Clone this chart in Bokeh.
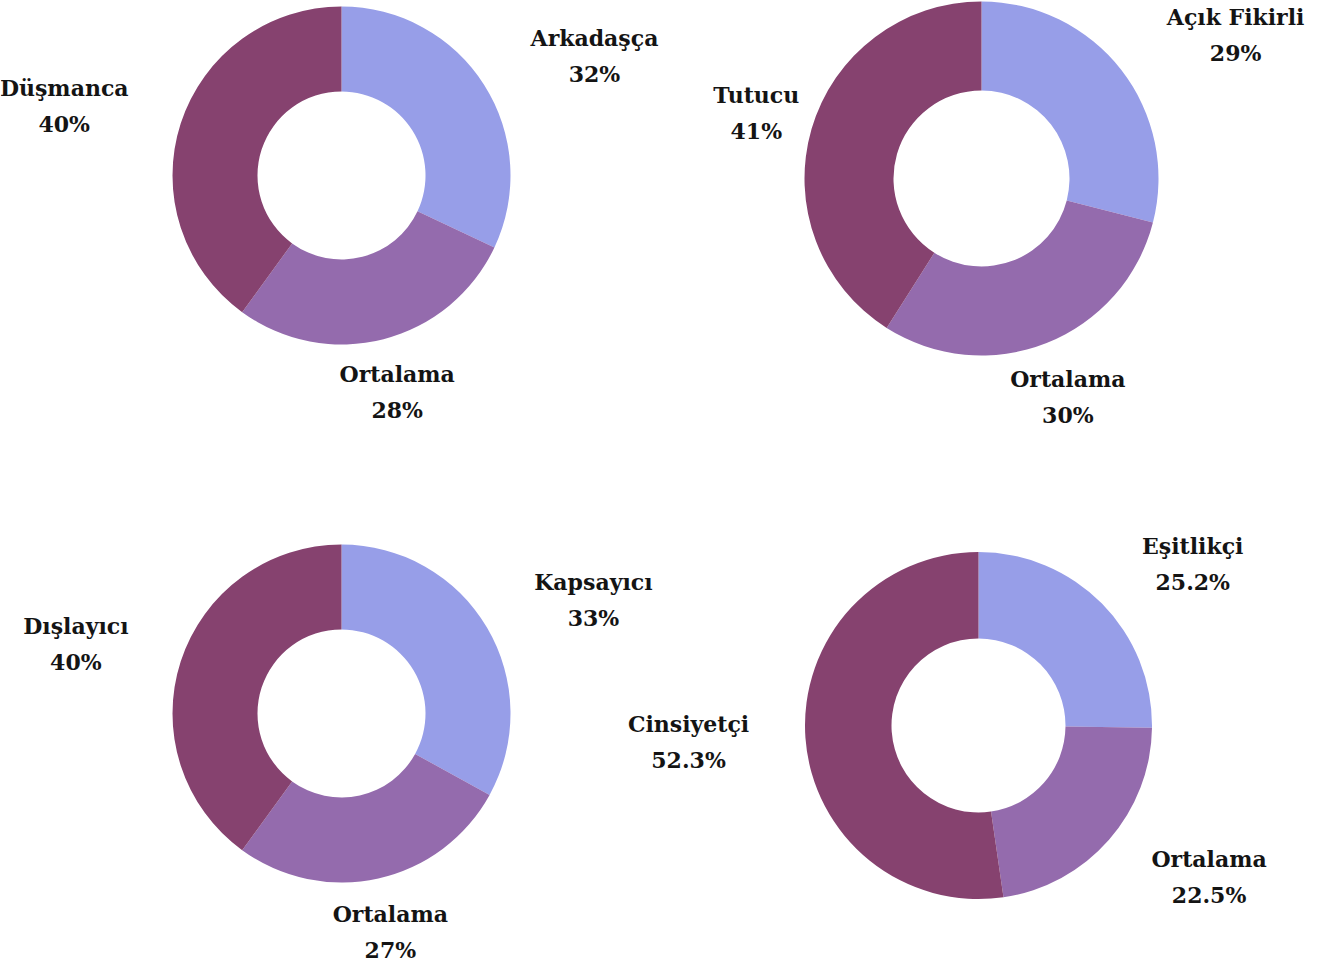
import math
import glob
from bokeh.plotting import figure
from bokeh.models import Range1d, ColumnDataSource
from bokeh.core.properties import value
from bokeh.embed import file_html
from bokeh.resources import INLINE

# ---- data ----
labels1 = ["Arkadaşça", "Ortalama", "Düşmanca"]
values1 = [32, 28, 40]
labels2 = ["Açık Fikirli", "Ortalama", "Tutucu"]
values2 = [29, 30, 41]
labels3 = ["Kapsayıcı", "Ortalama", "Dışlayıcı"]
values3 = [33, 27, 40]
labels4 = ["Eşitlikçi", "Ortalama", "Cinsiyetçi"]
values4 = [25.2, 22.5, 52.3]

# ---- style / layout ----
colors = ["#979EE8", "#946BAD", "#86426F"]
W, H = 1318, 965
# (center x, center y in page px, outer radius, inner radius, label alignments)
layout = [
    (341, 175, 169, 84, ["left", "center", "right"]),
    (981, 178, 177, 88, ["left", "center", "center"]),
    (341, 713, 169, 84, ["left", "center", "right"]),
    (978, 725, 173.5, 87, ["left", "left", "right"]),
]
LABEL_R = 1.325
FONT = "DejaVu Serif"
FPX = 22
LINE_GAP = 18

# text width measurement (for centring the two label lines within a block)
_measure = None
try:
    from PIL import ImageFont
    cands = glob.glob("/usr/share/fonts/**/DejaVuSerif-Bold.ttf", recursive=True)
    if cands:
        _font = ImageFont.truetype(cands[0], FPX)
        _measure = lambda s: _font.getlength(s)
except Exception:
    _measure = None
if _measure is None:
    _measure = lambda s: 0.66 * FPX * len(s)

p = figure(width=W, height=H, output_backend="svg", toolbar_location=None,
           x_range=Range1d(0, W), y_range=Range1d(0, H),
           min_border=0)
p.axis.visible = False
p.grid.visible = False
p.outline_line_color = None
p.background_fill_color = "white"


def to_y(py):
    return H - py


def fmt(v):
    return f"{v:g}%"


for (labels, values), (cx, cy, ro, ri, aligns) in zip(
        [(labels1, values1), (labels2, values2), (labels3, values3), (labels4, values4)], layout):
    total = sum(values)
    starts, ends, mids = [], [], []
    acc = 0.0
    for v in values:
        a0 = acc / total
        acc += v
        a1 = acc / total
        starts.append(math.pi / 2 - 2 * math.pi * a0)
        ends.append(math.pi / 2 - 2 * math.pi * a1)
        mids.append(math.pi / 2 - 2 * math.pi * (a0 + a1) / 2)
    src = ColumnDataSource(dict(start=starts, end=ends, color=colors))
    p.annular_wedge(x=cx, y=to_y(cy), inner_radius=ri, outer_radius=ro,
                    start_angle="start", end_angle="end", direction="clock",
                    fill_color="color", line_color=None, source=src)
    R = LABEL_R * ro
    for lab, v, m, al in zip(labels, values, mids, aligns):
        ax = cx + R * math.cos(m)
        ay = to_y(cy) + R * math.sin(m)
        w = max(_measure(lab), _measure(fmt(v)))
        if al == "left":
            bx = ax + w / 2
        elif al == "right":
            bx = ax - w / 2
        else:
            bx = ax
        p.text(x=[bx, bx], y=[ay + LINE_GAP, ay - LINE_GAP], text=[lab, fmt(v)],
               text_align="center", text_baseline="middle", text_font=value(FONT),
               text_font_size=f"{FPX}px", text_font_style="bold", text_color="#141414")

open("out.html", "w").write(file_html(p, INLINE))
